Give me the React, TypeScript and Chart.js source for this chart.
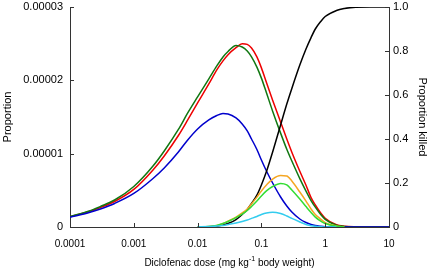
import React, { useEffect, useRef } from 'react';
import { Chart, registerables } from 'chart.js';

Chart.register(...registerables);

// Dose (mg/kg body weight), shared x positions for all series
const doses = [
  0.0001, 0.0002, 0.0003, 0.0005, 0.001, 0.002, 0.003, 0.005, 0.007, 0.01,
  0.015, 0.02, 0.025, 0.03, 0.04, 0.05, 0.06, 0.07, 0.085, 0.1,
  0.12, 0.15, 0.2, 0.25, 0.3, 0.4, 0.5, 0.6, 0.7, 0.85,
  1, 1.5, 2, 3, 5, 10,
];

// Left axis "Proportion" series, in units of 0.00001
const PROP_UNIT = 0.00001;
const propRed = [
  0.14, 0.211, 0.266, 0.348, 0.512, 0.778, 0.969, 1.248, 1.46, 1.692,
  1.951, 2.142, 2.265, 2.35, 2.445, 2.5, 2.49, 2.44, 2.32, 2.17,
  1.97, 1.73, 1.43, 1.2, 1.02, 0.76, 0.57, 0.4, 0.3, 0.19,
  0.12, 0.03, 0.01, 0.002, 0, 0,
];
const propGreen = [
  0.143, 0.218, 0.28, 0.368, 0.553, 0.832, 1.037, 1.33, 1.555, 1.774,
  2.02, 2.196, 2.319, 2.394, 2.476, 2.455, 2.4, 2.32, 2.18, 2.03,
  1.83, 1.58, 1.28, 1.06, 0.9, 0.66, 0.49, 0.36, 0.27, 0.17,
  0.105, 0.025, 0.007, 0.001, 0, 0,
];
const propBlue = [
  0.134, 0.198, 0.246, 0.321, 0.457, 0.662, 0.805, 1.023, 1.187, 1.337,
  1.46, 1.521, 1.548, 1.542, 1.487, 1.405, 1.31, 1.2, 1.057, 0.914,
  0.764, 0.6, 0.409, 0.286, 0.205, 0.109, 0.061, 0.034, 0.02, 0.01,
  0.004, 0, 0, 0, 0, 0,
];

// Right axis "Proportion killed" series
const killedBlack = [
  null, null, null, null, null, null, null, null, null, 0,
  0, 0.005, 0.009, 0.016, 0.034, 0.057, 0.08, 0.107, 0.145, 0.191,
  0.252, 0.341, 0.464, 0.559, 0.63, 0.736, 0.809, 0.861, 0.9, 0.934,
  0.957, 0.984, 0.993, 0.999, 1, 1,
];
const killedOrange = [
  null, null, null, null, null, null, null, null, null, 0,
  0.002, 0.007, 0.016, 0.027, 0.045, 0.064, 0.082, 0.105, 0.136, 0.164,
  0.191, 0.218, 0.234, 0.232, 0.209, 0.159, 0.118, 0.082, 0.057, 0.036,
  0.02, 0.005, 0, null, null, null,
];
const killedLime = [
  null, null, null, null, null, null, null, null, null, 0,
  0.002, 0.007, 0.016, 0.025, 0.043, 0.059, 0.075, 0.093, 0.118, 0.141,
  0.164, 0.184, 0.198, 0.191, 0.168, 0.127, 0.093, 0.066, 0.045, 0.027,
  0.016, 0.003, 0, null, null, null,
];
const killedCyan = [
  null, null, null, null, null, null, null, null, null, 0.001,
  0.002, 0.004, 0.007, 0.011, 0.018, 0.025, 0.032, 0.039, 0.048, 0.057,
  0.064, 0.067, 0.061, 0.05, 0.039, 0.023, 0.011, 0.006, 0.003, 0.001,
  0, 0, null, null, null, null,
];

const xTickValues = [0.0001, 0.001, 0.01, 0.1, 1, 10];
const xTickLabels = ['0.0001', '0.001', '0.01', '0.1', '1', '10'];
const yLeftTickValues = [0, 0.00001, 0.00002, 0.00003];
const yLeftTickLabels = ['0', '0.00001', '0.00002', '0.00003'];
const yRightTickValues = [0, 0.2, 0.4, 0.6, 0.8, 1.0];
const yRightTickLabels = ['0', '0.2', '0.4', '0.6', '0.8', '1.0'];

const FONT = "'Liberation Sans', Arial, sans-serif";
const AXIS_COLOR = '#333333';

function pts(vals: (number | null)[], unit = 1) {
  return doses.map((d, i) => ({ x: d, y: vals[i] == null ? null : (vals[i] as number) * unit }));
}

const innerTicks = {
  id: 'innerTicks',
  afterDraw(chart: any) {
    const { ctx, chartArea } = chart;
    const len = 4;
    ctx.save();
    ctx.strokeStyle = AXIS_COLOR;
    ctx.lineWidth = 1;
    ctx.beginPath();
    const xs = chart.scales.x;
    xs.ticks.forEach((t: any) => {
      const p = Math.round(xs.getPixelForValue(t.value)) + 0.5;
      ctx.moveTo(p, chartArea.bottom);
      ctx.lineTo(p, chartArea.bottom - len);
    });
    const yl = chart.scales.y;
    yl.ticks.forEach((t: any) => {
      const p = Math.round(yl.getPixelForValue(t.value)) + 0.5;
      ctx.moveTo(chartArea.left, p);
      ctx.lineTo(chartArea.left + len, p);
    });
    const yr = chart.scales.y2;
    yr.ticks.forEach((t: any) => {
      const p = Math.round(yr.getPixelForValue(t.value)) + 0.5;
      ctx.moveTo(chartArea.right, p);
      ctx.lineTo(chartArea.right - len, p);
    });
    ctx.stroke();

    // x-axis title with superscript
    const cx = (chartArea.left + chartArea.right) / 2;
    const ty = 263;
    const main1 = 'Diclofenac dose (mg kg';
    const sup = '-1';
    const main2 = ' body weight)';
    ctx.fillStyle = '#000';
    ctx.textBaseline = 'middle';
    ctx.font = `10px ${FONT}`;
    const w1 = ctx.measureText(main1).width;
    const w3 = ctx.measureText(main2).width;
    ctx.font = `7px ${FONT}`;
    const w2 = ctx.measureText(sup).width;
    const total = w1 + w2 + w3;
    const x0 = cx - total / 2;
    ctx.textAlign = 'left';
    ctx.font = `10px ${FONT}`;
    ctx.fillText(main1, x0, ty);
    ctx.font = `7px ${FONT}`;
    ctx.fillText(sup, x0 + w1, ty - 4);
    ctx.font = `10px ${FONT}`;
    ctx.fillText(main2, x0 + w1 + w2, ty);
    ctx.restore();
  },
};

export default function App() {
  const ref = useRef<HTMLCanvasElement | null>(null);

  useEffect(() => {
    document.body.style.margin = '0';
    const canvas = ref.current;
    if (!canvas) return;
    const line = (label: string, data: any[], color: string, axis: string) => ({
      label,
      data,
      borderColor: color,
      backgroundColor: color,
      borderWidth: 1.5,
      pointRadius: 0,
      fill: false,
      yAxisID: axis,
      cubicInterpolationMode: 'monotone' as const,
      spanGaps: false,
    });
    const chart = new Chart(canvas, {
      type: 'line',
      data: {
        datasets: [
          line('Cyan', pts(killedCyan), '#33ccee', 'y2'),
          line('Lime', pts(killedLime), '#33dd33', 'y2'),
          line('Orange', pts(killedOrange), '#f5a623', 'y2'),
          line('Black', pts(killedBlack), '#000000', 'y2'),
          line('Blue', pts(propBlue, PROP_UNIT), '#0000cc', 'y'),
          line('Green', pts(propGreen, PROP_UNIT), '#117711', 'y'),
          line('Red', pts(propRed, PROP_UNIT), '#ee0000', 'y'),
        ],
      },
      options: {
        responsive: false,
        animation: false,
        events: [],
        layout: { padding: { top: 7, left: 0, right: 0, bottom: 0 } },
        plugins: { legend: { display: false }, tooltip: { enabled: false }, title: { display: false } },
        scales: {
          x: {
            type: 'logarithmic',
            min: 0.0001,
            max: 10,
            afterBuildTicks: (s: any) => {
              s.ticks = xTickValues.map((v) => ({ value: v }));
            },
            afterFit: (s: any) => {
              s.height = 47;
            },
            ticks: {
              autoSkip: false,
              maxRotation: 0,
              padding: 11,
              color: '#000',
              font: { family: FONT, size: 10 },
              callback: (_v: any, i: number) => xTickLabels[i],
            },
            grid: { display: true, drawOnChartArea: false, drawTicks: false },
            border: { display: true, color: AXIS_COLOR, width: 1 },
            title: { display: false },
          },
          y: {
            type: 'linear',
            position: 'left',
            min: 0,
            max: 0.00003,
            afterBuildTicks: (s: any) => {
              s.ticks = yLeftTickValues.map((v) => ({ value: v }));
            },
            afterFit: (s: any) => {
              s.width = 70;
              s.paddingTop = 0;
              s.paddingBottom = 0;
            },
            ticks: {
              padding: 7,
              color: '#000',
              font: { family: FONT, size: 11 },
              callback: (_v: any, i: number) => yLeftTickLabels[i],
            },
            grid: { display: true, drawOnChartArea: false, drawTicks: false },
            border: { display: true, color: AXIS_COLOR, width: 1 },
            title: {
              display: true,
              text: 'Proportion',
              color: '#000',
              font: { family: FONT, size: 11 },
              padding: { top: 1, bottom: 0 },
            },
          },
          y2: {
            type: 'linear',
            position: 'right',
            min: 0,
            max: 1,
            afterBuildTicks: (s: any) => {
              s.ticks = yRightTickValues.map((v) => ({ value: v }));
            },
            afterFit: (s: any) => {
              s.width = 41;
              s.paddingTop = 0;
              s.paddingBottom = 0;
            },
            ticks: {
              padding: 4,
              color: '#000',
              font: { family: FONT, size: 11 },
              callback: (_v: any, i: number) => yRightTickLabels[i],
            },
            grid: { display: true, drawOnChartArea: false, drawTicks: false },
            border: { display: true, color: AXIS_COLOR, width: 1 },
            title: {
              display: true,
              text: 'Proportion killed',
              color: '#000',
              font: { family: FONT, size: 11 },
              padding: { top: 1, bottom: 0 },
            },
          },
        },
      },
      plugins: [innerTicks],
    });
    return () => chart.destroy();
  }, []);

  return (
    <div style={{ position: 'absolute', left: 0, top: 0, width: 430, height: 274, background: '#fff' }}>
      <canvas ref={ref} width={430} height={274} style={{ display: 'block' }} />
    </div>
  );
}
